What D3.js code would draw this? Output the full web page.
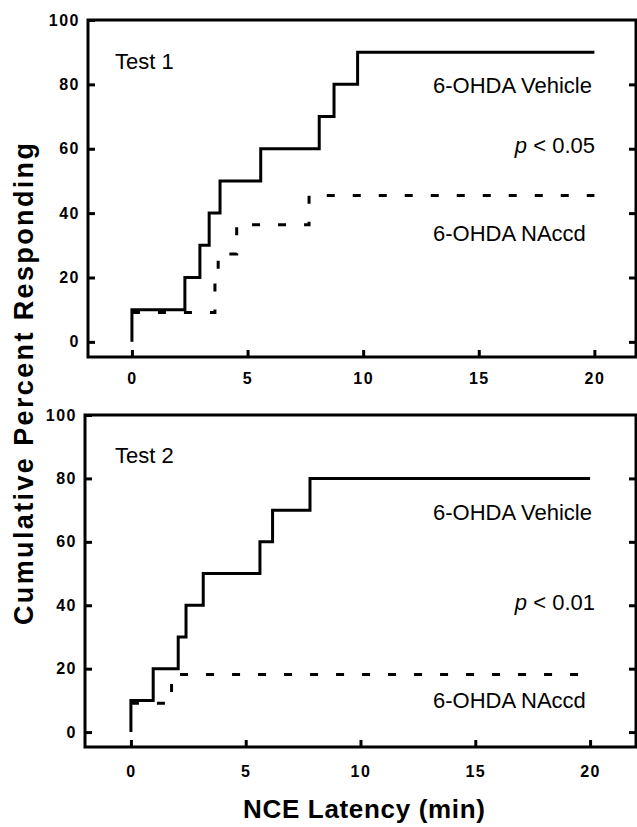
<!DOCTYPE html>
<html>
<head>
<meta charset="utf-8">
<script src="https://cdn.jsdelivr.net/npm/d3@7"></script>
<style>
  html, body { margin: 0; padding: 0; background: #fff; }
  svg { display: block; }
  text { font-family: "Liberation Sans", Arial, Helvetica, sans-serif; fill: #000; }
</style>
</head>
<body>
<svg id="chart" width="637" height="827"></svg>
<script>
// ---------- data ----------
const xTicks = [0, 5, 10, 15, 20];
const yTicks = [0, 20, 40, 60, 80, 100];

// Test 1
const vehicle1Time = [0, 0, 2.29, 2.94, 3.34, 3.81, 5.57, 8.1, 8.74, 9.76, 20];
const vehicle1Pct  = [0, 10, 20, 30, 40, 50, 60, 70, 80, 90, 90];
const naccd1Time   = [0, 3.59, 3.73, 4.53, 7.66, 20];
const naccd1Pct    = [9.1, 18.2, 27.3, 36.4, 45.5, 45.5];

// Test 2
const vehicle2Time = [0, 0, 0.97, 2.06, 2.4, 3.15, 5.62, 6.17, 7.8, 20];
const vehicle2Pct  = [0, 10, 20, 30, 40, 50, 60, 70, 80, 80];
const naccd2Time   = [0, 1.77, 20];
const naccd2Pct    = [9.1, 18.2, 18.2];

const panels = [
  { label: "Test 1", pText: "0.05", vt: vehicle1Time, vp: vehicle1Pct, nt: naccd1Time, np: naccd1Pct,
    xDomain: [-1.9, 21.8], xRange: [88, 636], yDomain: [-4.7, 100], yRange: [357, 20],
    labelY: 69, vehY: 93, pY: 153, nY: 241, tickPad: 16 },
  { label: "Test 2", pText: "0.01", vt: vehicle2Time, vp: vehicle2Pct, nt: naccd2Time, np: naccd2Pct,
    xDomain: [-2, 22], xRange: [85, 636], yDomain: [-4.7, 100], yRange: [747, 415],
    labelY: 463, vehY: 520, pY: 610, nY: 708, tickPad: 19 }
];

const svg = d3.select("#chart");

panels.forEach(p => {
  const x = d3.scaleLinear().domain(p.xDomain).range(p.xRange);
  const y = d3.scaleLinear().domain(p.yDomain).range(p.yRange);
  const g = svg.append("g");

  // frame
  g.append("rect")
    .attr("x", p.xRange[0]).attr("y", p.yRange[1])
    .attr("width", p.xRange[1] - p.xRange[0]).attr("height", p.yRange[0] - p.yRange[1])
    .attr("fill", "none").attr("stroke", "#000").attr("stroke-width", 3);

  // left axis
  const left = g.append("g").attr("transform", `translate(${p.xRange[0]},0)`)
    .call(d3.axisLeft(y).tickValues(yTicks).tickSizeInner(-7).tickSizeOuter(0).tickPadding(8));
  // right axis
  const right = g.append("g").attr("transform", `translate(${p.xRange[1]},0)`)
    .call(d3.axisRight(y).tickValues(yTicks.filter(v => v < 100)).tickSizeInner(-7).tickSizeOuter(0).tickFormat(""));
  // bottom axis
  const bottom = g.append("g").attr("transform", `translate(0,${p.yRange[0]})`)
    .call(d3.axisBottom(x).tickValues(xTicks).tickSizeInner(-7).tickSizeOuter(0).tickPadding(p.tickPad));

  [left, right, bottom].forEach(a => {
    a.select(".domain").remove();
    a.selectAll(".tick line").attr("stroke", "#000").attr("stroke-width", 3);
    a.selectAll(".tick text")
      .style("font-family", "'Liberation Sans', Arial, sans-serif")
      .style("font-size", "16px").style("font-weight", "bold")
      .style("letter-spacing", "1.5px").attr("fill", "#000");
  });

  // lines
  const line = d3.line().curve(d3.curveStepAfter).x(d => x(d[0])).y(d => y(d[1]));
  const vData = p.vt.map((t, i) => [t, p.vp[i]]);
  const nData = p.nt.map((t, i) => [t, p.np[i]]);

  g.append("path").datum(nData).attr("d", line)
    .attr("fill", "none").attr("stroke", "#000").attr("stroke-width", 3)
    .attr("stroke-dasharray", "8,18");
  g.append("path").datum(vData).attr("d", line)
    .attr("fill", "none").attr("stroke", "#000").attr("stroke-width", 3)
    .attr("stroke-linejoin", "miter");

  // annotations
  g.append("text").attr("x", 115).attr("y", p.labelY)
    .style("font-size", "22px").text(p.label);
  g.append("text").attr("x", 433).attr("y", p.vehY)
    .style("font-size", "22px").text("6-OHDA Vehicle");
  const pt = g.append("text").attr("x", 595).attr("y", p.pY)
    .attr("text-anchor", "end").style("font-size", "22px");
  pt.append("tspan").style("font-style", "italic").text("p");
  pt.append("tspan").text(" < " + p.pText);
  g.append("text").attr("x", 433).attr("y", p.nY)
    .style("font-size", "22px").text("6-OHDA NAccd");
});

// axis titles
svg.append("text")
  .attr("transform", "translate(33,384) rotate(-90)")
  .attr("text-anchor", "middle")
  .attr("textLength", 482).attr("lengthAdjust", "spacing")
  .style("font-size", "27px").style("font-weight", "bold")
  .text("Cumulative Percent Responding");

svg.append("text")
  .attr("x", 364).attr("y", 818)
  .attr("text-anchor", "middle")
  .attr("textLength", 242).attr("lengthAdjust", "spacing")
  .style("font-size", "26px").style("font-weight", "bold")
  .text("NCE Latency (min)");
</script>
</body>
</html>
